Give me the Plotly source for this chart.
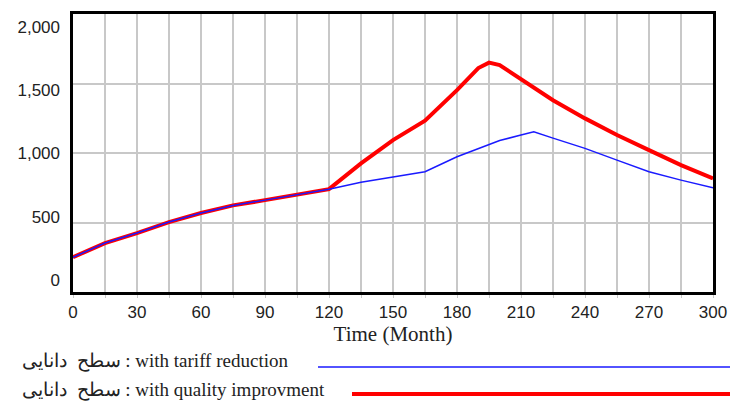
import plotly.graph_objects as go

months = [0, 15, 30, 45, 60, 75, 90, 105, 120, 135, 150, 165, 180, 190, 195, 200, 210, 216, 225, 240, 255, 270, 285, 300]
tariff_reduction = [250, 352, 424, 503, 568, 623, 661, 698, 740, 790, 829, 865, 973, 1030, 1064, 1090, 1129, 1153, 1107, 1033, 949, 865, 805, 750]
quality_improvment = [250, 352, 424, 503, 568, 623, 661, 698, 740, 925, 1093, 1232, 1452, 1611, 1650, 1632, 1529, 1470, 1380, 1249, 1129, 1021, 913, 817]

x_tickvals = list(range(0, 301, 15))
x_ticktext = [str(v) if v % 30 == 0 else "" for v in x_tickvals]
y_tickvals = [0, 500, 1000, 1500, 2000]
y_ticktext = ["0", "500", "1,000", "1,500", "2,000"]

fig = go.Figure()
fig.add_trace(go.Scatter(x=months, y=quality_improvment, mode="lines",
                         line=dict(color="#ff0000", width=4), name="with quality improvment"))
fig.add_trace(go.Scatter(x=months, y=tariff_reduction, mode="lines",
                         line=dict(color="#1a1aff", width=1.5), name="with tariff reduction"))
# empty trace so the label-only axis is drawn
fig.add_trace(go.Scatter(x=[None], y=[None], yaxis="y2", mode="lines", showlegend=False, hoverinfo="skip"))

fig.update_layout(
    width=730, height=403,
    margin=dict(l=73, r=17, t=14, b=111),
    paper_bgcolor="white", plot_bgcolor="white",
    showlegend=False,
    font=dict(family="Liberation Sans", color="#222222"),
    # label-only axis: the original software spaces the value labels slightly inside the frame
    yaxis2=dict(overlaying="y", side="left", range=[-95, 2103], tickvals=y_tickvals, ticktext=y_ticktext,
                showgrid=False, zeroline=False, showline=False, ticks="", ticklabelstandoff=12,
                automargin=False, fixedrange=True,
                tickfont=dict(family="Liberation Sans", size=17, color="#222222")),
)
fig.update_xaxes(range=[0, 300], tickvals=x_tickvals, ticktext=x_ticktext,
                 automargin=False,
                 showgrid=True, gridcolor="#c8c8c8", gridwidth=1.5,
                 showline=True, linecolor="black", linewidth=3, mirror=True,
                 ticks="outside", ticklen=3, tickcolor="#c8c8c8",
                 tickfont=dict(family="Liberation Sans", size=17, color="#222222"),
                 title=dict(text="Time (Month)", font=dict(family="Liberation Serif", size=21, color="#222222"), standoff=0),
                 zeroline=False)
fig.update_layout(yaxis=dict(range=[0, 2000], tickvals=y_tickvals, showticklabels=False,
                             automargin=False,
                             showgrid=True, gridcolor="#c8c8c8", gridwidth=1.5,
                             showline=True, linecolor="black", linewidth=3, mirror=True,
                             ticks="", zeroline=False))

# legend below chart (positions relative to plot area, 640x278 px)
fig.add_annotation(xref="paper", yref="paper", x=(20-73)/640, y=(292-361)/278, xanchor="left", yanchor="middle",
                   text="سطح  دانایی : with tariff reduction", showarrow=False,
                   font=dict(family="Liberation Serif", size=19, color="#222222"))
fig.add_annotation(xref="paper", yref="paper", x=(20-73)/640, y=(292-390)/278, xanchor="left", yanchor="middle",
                   text="سطح  دانایی : with quality improvment", showarrow=False,
                   font=dict(family="Liberation Serif", size=19, color="#222222"))
fig.add_shape(type="line", xref="paper", yref="paper", x0=(318-73)/640, x1=(730-73)/640,
              y0=(292-367)/278, y1=(292-367)/278, line=dict(color="#1a1aff", width=1.5))
fig.add_shape(type="line", xref="paper", yref="paper", x0=(352-73)/640, x1=(730-73)/640,
              y0=(292-394)/278, y1=(292-394)/278, line=dict(color="#ff0000", width=4))

# remove the default page margin so the figure fills the window exactly
fig.write_html("out.html", config={"displayModeBar": False}, post_script=(
    "document.body.style.margin='0';"
    "document.body.style.overflow='hidden';"
    "document.documentElement.style.overflow='hidden';"))
